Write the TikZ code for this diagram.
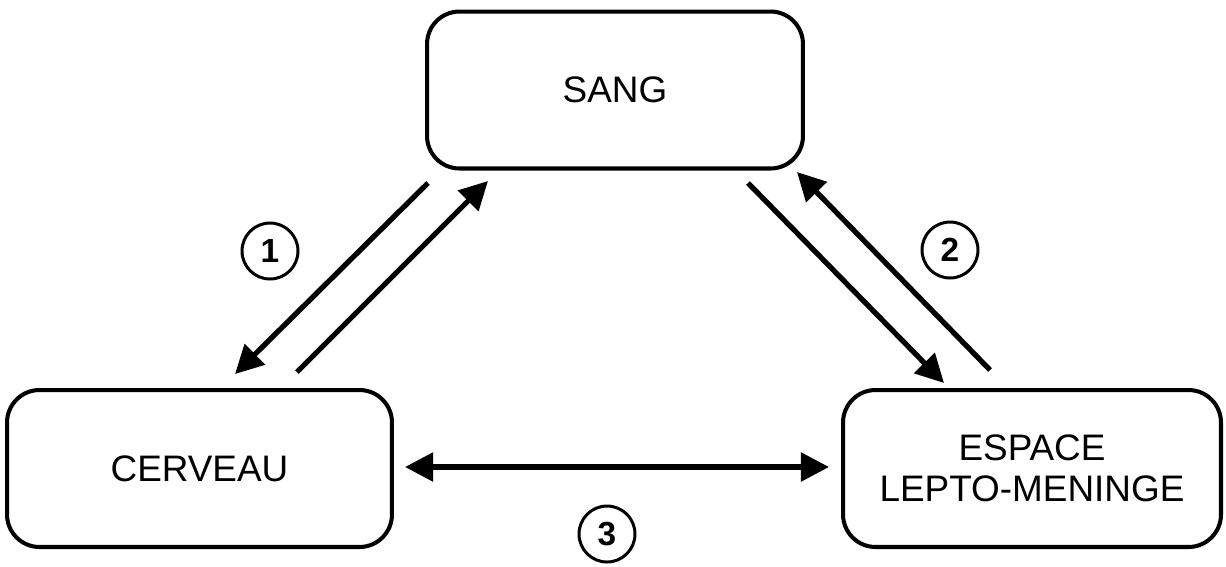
\documentclass[tikz,border=0pt]{standalone}
\usepackage{fontspec}
\setmainfont{Liberation Sans}
\usetikzlibrary{arrows.meta}
\begin{document}
\begin{tikzpicture}[x=0.02cm,y=-0.02cm,
  box/.style={draw, line width=2.3pt, rounded corners=0.65cm, align=center, font=\fontsize{21}{23.5}\selectfont, inner sep=0pt},
  tip/.tip={Triangle[length=16pt,width=16pt]},
  conn/.style={line width=3pt, -tip},
  dconn/.style={line width=3pt, tip-tip},
  num/.style={draw, circle, line width=1.7pt, minimum size=1.12cm, inner sep=0pt, font=\bfseries\fontsize{19}{22}\selectfont}]
\useasboundingbox (0,0) rectangle (1226,566);
\node[box, minimum width=7.52cm, minimum height=3.14cm] (sang) at (615,90) {SANG};
\node[box, minimum width=7.7cm, minimum height=3.14cm] (cerveau) at (199.5,468.5) {CERVEAU};
\node[box, minimum width=7.56cm, minimum height=3.14cm] (espace) at (1032,468.5) {ESPACE\\LEPTO-MENINGE};
% arrow endpoints
\coordinate (a1s) at (428,183);
\coordinate (a1e) at (235,374);
\coordinate (b1s) at (297,372);
\coordinate (b1e) at (488,181);
\coordinate (a2s) at (748,183);
\coordinate (a2e) at (944,383);
\coordinate (b2s) at (990,370);
\coordinate (b2e) at (797,172);
\coordinate (c3s) at (405,467);
\coordinate (c3e) at (829,467);
\draw[conn] (a1s) -- (a1e);
\draw[conn] (b1s) -- (b1e);
\draw[conn] (a2s) -- (a2e);
\draw[conn] (b2s) -- (b2e);
\draw[dconn] (c3s) -- (c3e);
\node[num] (n1) at (270,251) {1};
\node[num] (n2) at (950,250) {2};
\node[num] (n3) at (607,534) {3};
\end{tikzpicture}
\end{document}
